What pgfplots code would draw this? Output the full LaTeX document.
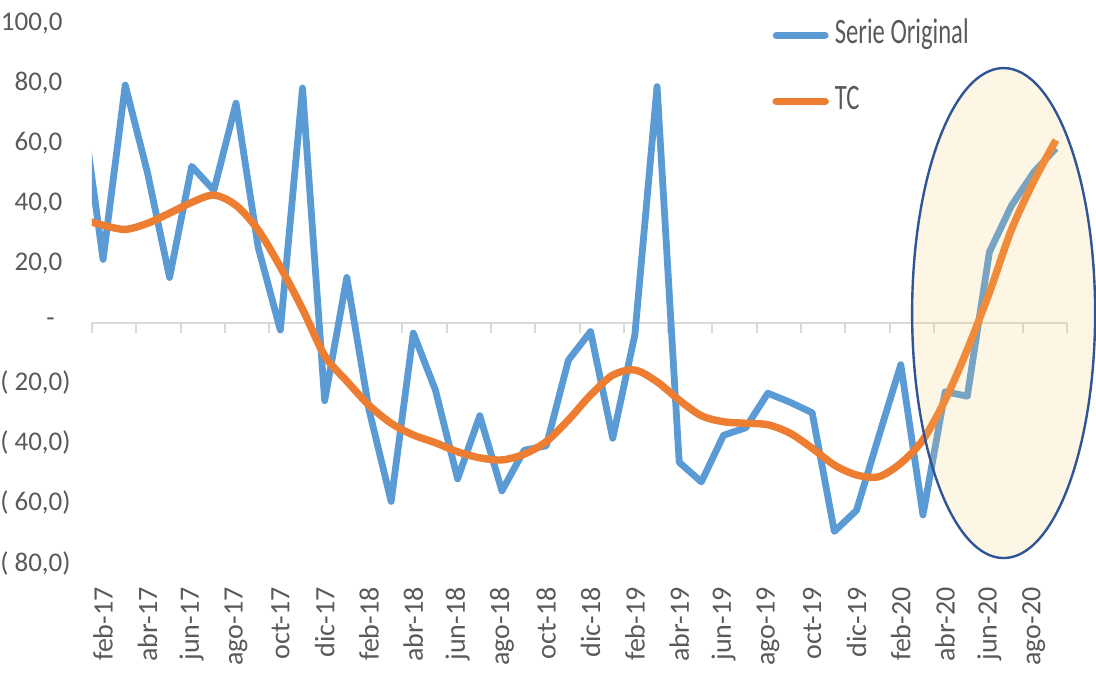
\documentclass[border=0pt]{standalone}
\usepackage{pgfplots}
\pgfplotsset{compat=1.18}
\usepackage{fontspec}
\setmainfont{Carlito}
\newfontfamily\legfont{Carlito}[FakeStretch=0.69]
\definecolor{serieblue}{RGB}{91,155,213}
\definecolor{tcorange}{RGB}{237,125,49}
\definecolor{axgray}{RGB}{217,217,217}
\definecolor{txtgray}{RGB}{89,89,89}
\definecolor{ellfill}{RGB}{250,206,108}
\definecolor{ellline}{RGB}{47,85,151}
\begin{document}
\begin{tikzpicture}
\useasboundingbox (-46pt,-62pt) rectangle (502pt,281.5pt);
\pgfplotsset{common/.style={scale only axis, width=487.5pt, height=270.5pt,
  at={(0pt,0pt)}, anchor=south west,
  xmin=-0.5, xmax=43.5, ymin=-80, ymax=100}}
% zero line with its tick marks
\begin{axis}[common,
  axis x line=middle, axis y line=none,
  axis line style={-, draw=axgray, line width=1pt},
  xtick={-0.5,1.5,...,43.5}, xticklabels={},
  tick align=outside, major tick length=5pt,
  xtick style={draw=axgray, line width=1pt},
  ytick=\empty]
\end{axis}
% data axis
\begin{axis}[common,
  axis x line*=bottom, axis y line*=left,
  axis line style={draw=none}, major tick length=0pt,
  xtick={0,2,...,42},
  xticklabels={feb-17,abr-17,jun-17,ago-17,oct-17,dic-17,feb-18,abr-18,jun-18,ago-18,oct-18,dic-18,feb-19,abr-19,jun-19,ago-19,oct-19,dic-19,feb-20,abr-20,jun-20,ago-20},
  xticklabel style={rotate=90, anchor=east, inner sep=0pt, font=\fontsize{14}{16}\selectfont, text=txtgray},
  xticklabel shift=12pt,
  ytick={-80,-60,...,100},
  yticklabels={{( 80,0)},{( 60,0)},{( 40,0)},{( 20,0)},{-\hspace*{8pt}},{20,0\phantom{)}},{40,0\phantom{)}},{60,0\phantom{)}},{80,0\phantom{)}},{100,0\phantom{)}}},
  yticklabel style={anchor=east, inner sep=0pt, font=\fontsize{13.5}{16}\selectfont, text=txtgray},
  yticklabel shift=10.5pt,
  legend image code/.code={\draw[#1, line cap=round] (0pt,0pt) -- (24.5pt,0pt);},
  legend cell align=left,
  legend style={draw=none, fill=none, at={(axis cs:30.19,101)}, anchor=north west,
    inner sep=0pt, row sep=17pt,
    nodes={inner sep=0pt, text height=12pt, text depth=4pt, font=\legfont\fontsize{17.85}{20}\selectfont, text=txtgray},
    /tikz/every odd column/.append style={column sep=3pt}},
  ]
\addplot[serieblue, line width=3.4pt, line join=round] coordinates {
(-1,75) (0,21) (1,79) (2,50) (3,15) (4,52) (5,44) (6,73) (7,25) (8,-2.5)
(9,78) (10,-26) (11,15) (12,-29) (13,-59.5) (14,-3.5) (15,-22.5) (16,-52) (17,-31) (18,-56)
(19,-42.5) (20,-41) (21,-12.5) (22,-3) (23,-38.5) (24,-4) (25,78.5) (26,-46.5) (27,-53) (28,-37.5)
(29,-35) (30,-23.5) (31,-26.5) (32,-30) (33,-69.5) (34,-62.5) (35,-38) (36,-14) (37,-64) (38,-23)
(39,-24.5) (40,23.5) (41,39) (42,50) (43,58)};
\addlegendentry{Serie Original}
\addplot[tcorange, line width=3.7pt, smooth, line join=round] coordinates {
(-1,34.5) (0,32.4) (1,31) (2,33) (3,36.4) (4,40) (5,42.4) (6,39) (7,30.8) (8,18.5)
(9,4.5) (10,-11) (11,-19.5) (12,-27.5) (13,-33.5) (14,-37.4) (15,-40) (16,-43) (17,-45) (18,-45.7)
(19,-43.8) (20,-39.6) (21,-32.4) (22,-24.1) (23,-17.5) (24,-15.8) (25,-19.7) (26,-25.8) (27,-31) (28,-33)
(29,-33.5) (30,-34) (31,-36.8) (32,-41.8) (33,-47.4) (34,-50.7) (35,-51.3) (36,-46.8) (37,-39) (38,-25.8)
(39,-9) (40,10) (41,31) (42,47) (43,60.7)};
\addlegendentry{TC}
\coordinate (E) at (axis cs:40.64,3.16);
\end{axis}
\fill[ellfill, opacity=0.18] (E) ellipse [x radius=45.75pt, y radius=122.5pt];
\draw[ellline, line width=1.2pt] (E) ellipse [x radius=45.75pt, y radius=122.5pt];
\end{tikzpicture}
\end{document}
